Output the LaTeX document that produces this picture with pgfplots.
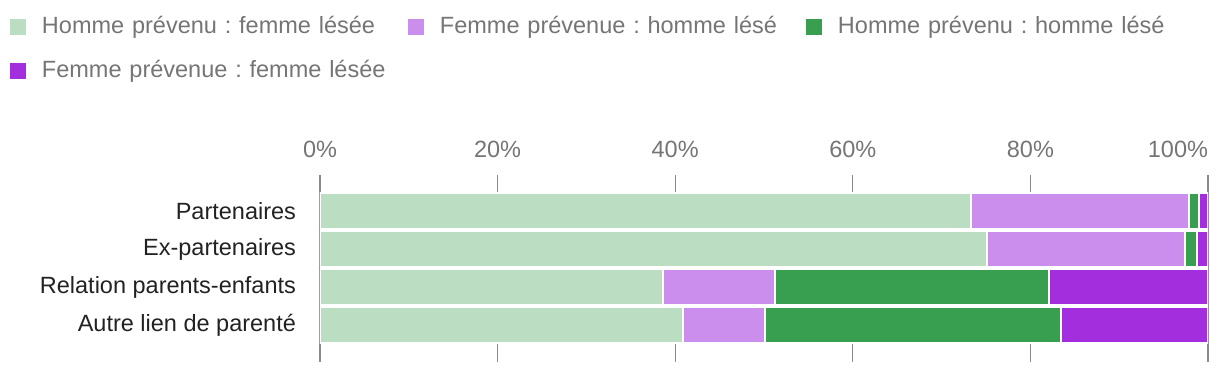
\documentclass[border=0pt]{standalone}
\usepackage{fontspec}
\setmainfont{Liberation Sans}
\usepackage{pgfplots}
\pgfplotsset{compat=1.18}
\usepackage{pgfplotstable}
\definecolor{c1}{HTML}{BBDEC3}
\definecolor{c2}{HTML}{CB8EED}
\definecolor{c3}{HTML}{389E50}
\definecolor{c4}{HTML}{A32EDD}
\definecolor{tickgray}{HTML}{757575}
\definecolor{labdark}{HTML}{222222}
\definecolor{gridgray}{HTML}{8A8A8A}
\pgfplotstableread{
pos a b c d
0 73.3 24.6 1.1 1.0
1 75.1 22.3 1.4 1.2
2 38.6 12.6 30.9 17.9
3 40.9 9.2 33.3 16.6
}\data
\frenchspacing
\begin{document}
\frenchspacing
\fontsize{23.5}{28}\selectfont
\begin{tikzpicture}
\begin{axis}[
  name=ax,
  scale only axis, width=888pt, height=187pt,
  xbar stacked, bar width=36pt,
  xmin=0, xmax=100, ymin=-0.95, ymax=3.97, y dir=reverse,
  axis line style={draw=none},
  xtick={0,20,40,60,80,100},
  xticklabels={0\%,20\%,40\%,60\%,80\%,\makebox[0pt][r]{100\%}},
  xticklabel pos=right,
  xmajorgrids, major grid style={color=gridgray, line width=1.3pt},
  major tick length=0pt,
  ytick={0,1,2,3},
  yticklabels={Partenaires, Ex-partenaires, Relation parents-enfants, Autre lien de parenté},
  xticklabel style={text=tickgray, yshift=9pt, font=\fontsize{23.5}{28}\selectfont},
  yticklabel style={text=labdark, xshift=-16pt, font=\fontsize{23.5}{28}\selectfont},
  every axis plot/.append style={draw=white, line width=2pt},
  legend columns=3,
  legend cell align=left,
  legend image code/.code={\fill[#1,draw=none] (0pt,-7pt) rectangle (16pt,9pt);},
  legend style={draw=none, fill=none, inner sep=0pt, outer sep=0pt,
    at={(axis description cs:0,1)}, anchor=north west, xshift=-310pt, yshift=158pt,
    nodes={inner sep=0pt, text=tickgray, text height=17pt, text depth=5pt, text width=350pt, align=left, font=\fontsize{23.5}{28}\selectfont\frenchspacing},
    /tikz/every odd column/.append style={column sep=16pt},
    /tikz/every even column/.append style={column sep=16pt},
    row sep=22pt},
]
\addplot[fill=c1] table[x=a, y=pos] {\data};
\addplot[fill=c2] table[x=b, y=pos] {\data};
\addplot[fill=c3] table[x=c, y=pos] {\data};
\addplot[fill=c4] table[x=d, y=pos] {\data};
\legend{Homme prévenu : femme lésée, Femme prévenue : homme lésé, Homme prévenu : homme lésé, Femme prévenue : femme lésée}
\end{axis}
\pgfresetboundingbox
\useasboundingbox ([xshift=-320pt,yshift=-12pt]ax.south west) rectangle ([xshift=12pt,yshift=175pt]ax.north east);
\end{tikzpicture}
\end{document}
